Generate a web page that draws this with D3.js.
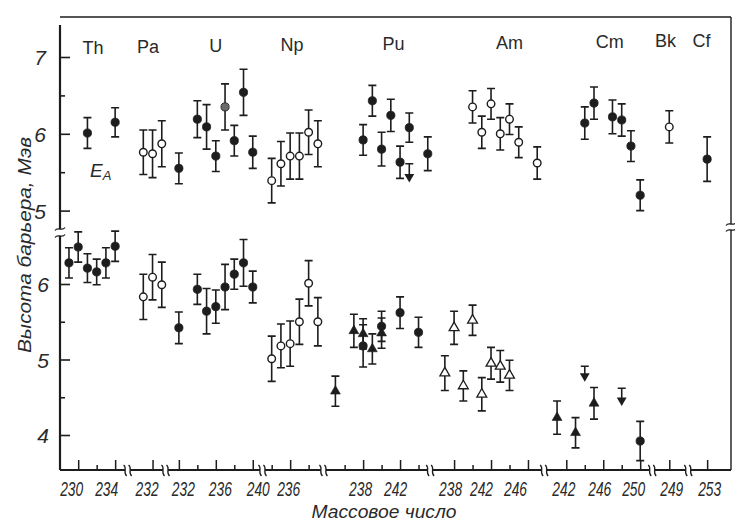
<!DOCTYPE html>
<html>
<head>
<meta charset="utf-8">
<script src="https://cdn.jsdelivr.net/npm/d3@7"></script>
<style>
  body { margin: 0; background: #fff; }
  svg { display: block; }
</style>
</head>
<body>
<svg id="chart" width="735" height="521"></svg>
<script>
// ---- element groups along the broken mass-number axis ----
const elements = ["Th", "Pa", "U", "Np", "Pu", "Am", "Cm", "Bk", "Cf"];
// mass-number span shown for each group (segments are separated by axis breaks)
const segmentSpans = [[228.3, 235.35], [229.3, 233.4], [230.55, 241.05], [233, 239.6],
                      [233.7, 245.25], [235.4, 247.75], [239.6, 251.3], [247.15, 251.05], [250.95, 255.8]];
// labelled and unlabelled ticks for each group
const majorTicks = [[230, 234], [232], [232, 236, 240], [236], [238, 242], [238, 242, 246], [242, 246, 250], [249], [253]];
const minorTicks = [[232], [], [234, 238], [234, 238], [236, 240, 244], [240, 244], [244, 248], [], []];
// horizontal shift of each tick label (px), in axis order, so crowded labels do not collide
const labelNudge = [-7, -9, -6, 4, 4, 5, -2, -3, -5, -4, -10, -13, -3, -4, -7, 2, 2];
// mass number above which each group name is centred
const groupLabelAt = [231.6, 231.5, 236, 236.2, 241.3, 244, 246.7, 248.6, 252.4];

// barrier heights, MeV: [element, mass number, height, error]
// upper panel (first barrier E_A)
const upperFilled = [
  ["Th", 231, 6.01, 0.20], ["Th", 234, 6.15, 0.19],
  ["U", 232, 5.55, 0.20], ["U", 234, 6.19, 0.24], ["U", 235, 6.09, 0.29], ["U", 236, 5.71, 0.20],
  ["U", 238, 5.91, 0.20], ["U", 239, 6.54, 0.30], ["U", 240, 5.76, 0.21],
  ["Pu", 238, 5.92, 0.20], ["Pu", 239, 6.43, 0.20], ["Pu", 240, 5.80, 0.22], ["Pu", 241, 6.24, 0.21],
  ["Pu", 242, 5.63, 0.21], ["Pu", 243, 6.08, 0.19], ["Pu", 245, 5.74, 0.22],
  ["Cm", 244, 6.14, 0.21], ["Cm", 245, 6.40, 0.21], ["Cm", 247, 6.22, 0.22], ["Cm", 248, 6.18, 0.21],
  ["Cm", 249, 5.84, 0.20], ["Cm", 250, 5.20, 0.20],
  ["Cf", 253, 5.67, 0.29]
];
const upperGrey = [["U", 237, 6.35, 0.30]];
const upperOpen = [
  ["Pa", 231, 5.76, 0.29], ["Pa", 232, 5.74, 0.31], ["Pa", 233, 5.87, 0.30],
  ["Np", 234, 5.39, 0.29], ["Np", 235, 5.61, 0.29], ["Np", 236, 5.71, 0.30], ["Np", 237, 5.71, 0.30],
  ["Np", 238, 6.02, 0.29], ["Np", 239, 5.87, 0.30],
  ["Am", 240, 6.35, 0.21], ["Am", 241, 6.02, 0.21], ["Am", 242, 6.39, 0.20], ["Am", 243, 6.00, 0.21],
  ["Am", 244, 6.19, 0.20], ["Am", 245, 5.89, 0.20], ["Am", 247, 5.62, 0.21],
  ["Bk", 249, 6.09, 0.21]
];
// upper limits: [element, mass number, height, limit bar]
const upperLimits = [["Pu", 243, 5.44, 5.61]];

// lower panel (second barrier)
const lowerFilled = [
  ["Th", 229, 6.28, 0.20], ["Th", 230, 6.49, 0.20], ["Th", 231, 6.21, 0.19], ["Th", 232, 6.16, 0.17],
  ["Th", 233, 6.28, 0.20], ["Th", 234, 6.50, 0.20],
  ["U", 232, 5.42, 0.21], ["U", 234, 5.93, 0.20], ["U", 235, 5.64, 0.30], ["U", 236, 5.70, 0.22],
  ["U", 237, 5.96, 0.30], ["U", 238, 6.13, 0.20], ["U", 239, 6.28, 0.31], ["U", 240, 5.96, 0.21],
  ["Pu", 238, 5.18, 0.28], ["Pu", 240, 5.44, 0.20], ["Pu", 242, 5.62, 0.21], ["Pu", 244, 5.36, 0.20],
  ["Cm", 250, 3.92, 0.26]
];
const lowerOpen = [
  ["Pa", 231, 5.83, 0.30], ["Pa", 232, 6.09, 0.30], ["Pa", 233, 5.99, 0.30],
  ["Np", 234, 5.01, 0.30], ["Np", 235, 5.18, 0.29], ["Np", 236, 5.21, 0.30], ["Np", 237, 5.50, 0.30],
  ["Np", 238, 6.01, 0.30], ["Np", 239, 5.50, 0.32]
];
const lowerTriangles = [
  ["Pu", 235, 4.58, 0.20], ["Pu", 237, 5.38, 0.22], ["Pu", 238, 5.34, 0.20], ["Pu", 239, 5.14, 0.20],
  ["Pu", 240, 5.35, 0.20],
  ["Cm", 241, 4.23, 0.22], ["Cm", 243, 4.03, 0.20], ["Cm", 245, 4.42, 0.21]
];
const lowerOpenTriangles = [
  ["Am", 237, 4.82, 0.23], ["Am", 238, 5.42, 0.22], ["Am", 239, 4.65, 0.20], ["Am", 240, 5.52, 0.20],
  ["Am", 241, 4.54, 0.22], ["Am", 242, 4.95, 0.21], ["Am", 243, 4.91, 0.21], ["Am", 244, 4.79, 0.20]
];
const lowerLimits = [["Cm", 244, 4.78, 4.91], ["Cm", 248, 4.46, 4.62]];

const upperTicks = [5, 6, 7], upperMinor = [5.5, 6.5];
const lowerTicks = [4, 5, 6], lowerMinor = [4.5, 5.5];

// ---- layout ----
const ink = "#1d1d1d";
const AX = 60, AY = 470, TOP = 17, RX = 731;
const X_START = 62.5, X_END = 733;
const numFont = "'Liberation Sans', Arial, sans-serif";
const svg = d3.select("#chart");

const yUpper = d3.scaleLinear().domain([5, 7]).range([210.6, 57]);
const yLower = d3.scaleLinear().domain([4, 6]).range([435, 284]);

// one linear scale per element group, laid side by side
const unit = (X_END - X_START) / d3.sum(segmentSpans, s => s[1] - s[0]);
const xScales = {};
let acc = X_START;
elements.forEach((el, i) => {
  const [lo, hi] = segmentSpans[i];
  const w = (hi - lo) * unit;
  xScales[el] = d3.scaleLinear().domain([lo, hi]).range([acc, acc + w]);
  acc += w;
});
const xOf = d => xScales[d[0]](d[1]);
const breaks = elements.slice(1).map(el => xScales[el].range()[0]);

// ---- frame ----
const frame = svg.append("g").attr("fill", "none").attr("stroke", ink);
frame.append("path").attr("d", `M${AX},${TOP}H${RX}`).attr("stroke-width", 1.4);
frame.append("path").attr("d", `M${RX},${TOP}V224M${RX},230V${AY}`).attr("stroke-width", 1.4);
frame.append("path").attr("d", `M${AX},25V229M${AX},236V${AY}`).attr("stroke-width", 2.2);
// bottom axis interrupted at each break
const stops = [AX, ...breaks, RX];
let bottom = "";
for (let i = 0; i < stops.length - 1; i++) {
  const a = i === 0 ? stops[i] : stops[i] + 2.5;
  const b = i === stops.length - 2 ? stops[i + 1] : stops[i + 1] - 2.5;
  bottom += `M${a},${AY}H${b}`;
}
frame.append("path").attr("d", bottom).attr("stroke-width", 1.8);

// break marks
const brk = svg.append("g").attr("fill", "none").attr("stroke", ink).attr("stroke-width", 1.3);
breaks.forEach(x => {
  [-2.5, 2.5].forEach(dx => {
    const cx = x + dx;
    brk.append("path").attr("d", `M${cx - 1.5},${AY - 5}C${cx + 2.5},${AY - 2} ${cx - 2.5},${AY + 2} ${cx + 1.5},${AY + 6}`);
  });
});
[[AX, 229], [AX, 236], [RX, 224], [RX, 230]].forEach(([x, y]) => {
  brk.append("path").attr("d", `M${x - 5},${y + 1.5}C${x - 2},${y - 3} ${x + 2},${y + 3} ${x + 5},${y - 1.5}`);
});

// ---- y axes ----
function yAxis(scale, major, minor, pad) {
  const g = svg.append("g").attr("transform", `translate(${AX},0)`);
  g.call(d3.axisLeft(scale).tickValues(major).tickSize(-10).tickPadding(pad).tickFormat(d3.format("d")));
  g.append("g").call(d3.axisLeft(scale).tickValues(minor).tickSize(-5).tickFormat(""));
  g.selectAll(".domain").remove();
  g.selectAll("line").attr("stroke", ink).attr("stroke-width", 1.6);
  g.selectAll("text").attr("font-family", numFont).attr("font-style", "italic")
    .attr("font-size", 21).attr("fill", "#2a2a2a").attr("dy", "0.36em");
}
yAxis(yUpper, upperTicks, upperMinor, 14);
yAxis(yLower, lowerTicks, lowerMinor, 11);

// ---- x axis, one piece per element group ----
let labelIndex = 0;
elements.forEach((el, i) => {
  const g = svg.append("g").attr("transform", `translate(0,${AY})`);
  g.call(d3.axisBottom(xScales[el]).tickValues(majorTicks[i]).tickSize(-10).tickPadding(12).tickFormat(d3.format("d")));
  g.append("g").call(d3.axisBottom(xScales[el]).tickValues(minorTicks[i]).tickSize(-5).tickFormat(""));
  g.selectAll(".domain").remove();
  g.selectAll("line").attr("stroke", ink).attr("stroke-width", 1.5);
  g.selectAll(":scope > .tick text").each(function () {
    d3.select(this).attr("x", labelNudge[labelIndex++]);
  });
  g.selectAll("text").attr("font-family", numFont).attr("font-style", "italic")
    .attr("font-size", 20).attr("fill", "#2a2a2a")
    .attr("textLength", 23).attr("lengthAdjust", "spacingAndGlyphs");
});

// ---- group names ----
svg.append("g").selectAll("text").data(elements).join("text")
  .attr("x", (el, i) => xScales[el](groupLabelAt[i]))
  .attr("y", (el, i) => 53.5 - 0.0105 * (xScales[el](groupLabelAt[i]) - 94))
  .attr("text-anchor", "middle")
  .attr("font-family", numFont).attr("font-size", 18).attr("fill", "#2a2a2a")
  .text(d => d);

// ---- titles ----
svg.append("text").attr("x", 90).attr("y", 177)
  .attr("font-family", numFont).attr("font-style", "italic").attr("font-size", 19).attr("fill", "#2a2a2a")
  .text("E").append("tspan").attr("font-size", 13).attr("dy", 3).text("A");

svg.append("text").attr("transform", "translate(31,245) rotate(-90)")
  .attr("text-anchor", "middle").attr("font-family", numFont).attr("font-style", "italic")
  .attr("font-size", 19).attr("fill", "#2a2a2a")
  .attr("textLength", 216).attr("lengthAdjust", "spacingAndGlyphs")
  .text("Высота барьера, Мэв");

svg.append("text").attr("x", 384).attr("y", 518).attr("text-anchor", "middle")
  .attr("font-family", numFont).attr("font-style", "italic").attr("font-size", 18).attr("fill", "#2a2a2a")
  .attr("textLength", 145).attr("lengthAdjust", "spacingAndGlyphs")
  .text("Массовое число");

// ---- data marks ----
const marks = svg.append("g");
function errorBars(rows, y) {
  const g = marks.append("g").attr("stroke", ink).attr("stroke-width", 1.6).attr("fill", "none");
  g.selectAll("path").data(rows).join("path").attr("d", d => {
    const x = xOf(d), y1 = y(d[2] + d[3]), y0 = y(d[2] - d[3]);
    return `M${x - 4},${y1}H${x + 4}M${x},${y1}V${y0}M${x - 4},${y0}H${x + 4}`;
  });
}
function circles(rows, y, fill) {
  errorBars(rows, y);
  marks.append("g").selectAll("circle").data(rows).join("circle")
    .attr("cx", xOf).attr("cy", d => y(d[2])).attr("r", fill === "#fff" ? 3.8 : 4.1)
    .attr("fill", fill).attr("stroke", ink).attr("stroke-width", fill === "#fff" ? 1.4 : 0.8);
}
function triangles(rows, y, fill) {
  errorBars(rows, y);
  const sym = d3.symbol(d3.symbolTriangle, 42);
  marks.append("g").selectAll("path").data(rows).join("path")
    .attr("d", sym).attr("transform", d => `translate(${xOf(d)},${y(d[2])})`)
    .attr("fill", fill).attr("stroke", ink).attr("stroke-width", fill === "#fff" ? 1.3 : 0.6);
}
function limits(rows, y) {
  const g = marks.append("g");
  g.selectAll("path.bar").data(rows).join("path").attr("class", "bar")
    .attr("fill", "none").attr("stroke", ink).attr("stroke-width", 1.6)
    .attr("d", d => {
      const x = xOf(d), yc = y(d[3]);
      return `M${x - 4},${yc}H${x + 4}M${x},${yc}V${y(d[2])}`;
    });
  const sym = d3.symbol(d3.symbolTriangle, 42);
  g.selectAll("path.head").data(rows).join("path").attr("class", "head")
    .attr("d", sym).attr("transform", d => `translate(${xOf(d)},${y(d[2])}) rotate(180)`)
    .attr("fill", ink);
}

circles(upperFilled, yUpper, ink);
circles(upperGrey, yUpper, "#6a6a6a");
circles(upperOpen, yUpper, "#fff");
limits(upperLimits, yUpper);

circles(lowerFilled, yLower, ink);
circles(lowerOpen, yLower, "#fff");
triangles(lowerTriangles, yLower, ink);
triangles(lowerOpenTriangles, yLower, "#fff");
limits(lowerLimits, yLower);
</script>
</body>
</html>
